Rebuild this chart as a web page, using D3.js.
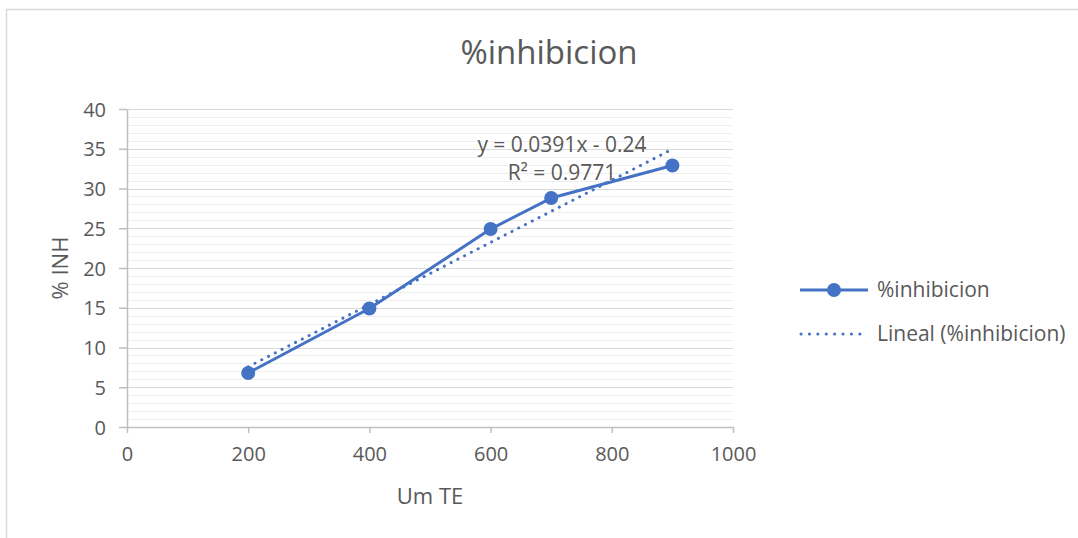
<!DOCTYPE html>
<html>
<head>
<meta charset="utf-8">
<script src="https://cdn.jsdelivr.net/npm/d3@7"></script>
<style>
  html, body { margin: 0; padding: 0; background: #fff; }
  svg { display: block; font-family: "Open Sans", "Noto Sans", sans-serif; }
</style>
</head>
<body>
<svg id="chart" width="1078" height="538"></svg>
<script>
// Measured concentrations (µM TE) and % inhibition
const concentrations = [200, 400, 600, 700, 900];
const inhibition = [6.8, 14.9, 24.9, 28.8, 32.9];

// Linear trendline reported on the chart
const trendSlope = 0.0391;
const trendIntercept = -0.24;
const trendR2 = 0.9771;

// Axis ticks
const xTicks = [0, 200, 400, 600, 800, 1000];
const yTicks = [0, 5, 10, 15, 20, 25, 30, 35, 40];
const yMinorTicks = d3.range(0, 41, 1);

const chartTitle = "%inhibicion";
const xTitle = "Um TE";
const yTitle = "% INH";
const seriesName = "%inhibicion";
const trendName = "Lineal (%inhibicion)";

const blue = "#4472C4";
const textGray = "#595959";

const svg = d3.select("#chart");

// Chart frame
svg.append("path")
  .attr("d", "M6.5,538 V9.5 H1078")
  .attr("fill", "none")
  .attr("stroke", "#d9d9d9")
  .attr("stroke-width", 1.5);

const x = d3.scaleLinear().domain([0, 1000]).range([127, 733]);
const y = d3.scaleLinear().domain([0, 40]).range([427, 109]);

// Minor gridlines
svg.append("g")
  .selectAll("line")
  .data(yMinorTicks.filter(v => v % 5 !== 0))
  .join("line")
  .attr("x1", x(0)).attr("x2", x(1000))
  .attr("y1", d => Math.round(y(d)) + 0.5).attr("y2", d => Math.round(y(d)) + 0.5)
  .attr("stroke", "#efefef")
  .attr("stroke-width", 1);

// Major gridlines
svg.append("g")
  .selectAll("line")
  .data(yTicks.filter(v => v !== 0))
  .join("line")
  .attr("x1", x(0)).attr("x2", x(1000))
  .attr("y1", d => Math.round(y(d)) + 0.5).attr("y2", d => Math.round(y(d)) + 0.5)
  .attr("stroke", "#d9d9d9")
  .attr("stroke-width", 1.2);

// Axes
const xAxis = svg.append("g")
  .attr("transform", `translate(0,${y(0)})`)
  .call(d3.axisBottom(x).tickValues(xTicks).tickFormat(d3.format("d"))
    .tickSize(6).tickSizeOuter(0).tickPadding(14));
const yAxis = svg.append("g")
  .attr("transform", `translate(${x(0)},0)`)
  .call(d3.axisLeft(y).tickValues(yTicks).tickFormat(d3.format("d"))
    .tickSize(8).tickSizeOuter(0).tickPadding(13));

[xAxis, yAxis].forEach(g => {
  g.selectAll("path.domain").attr("stroke", "#bfbfbf").attr("stroke-width", 1.5);
  g.selectAll(".tick line").attr("stroke", "#bfbfbf").attr("stroke-width", 1.5);
  g.selectAll(".tick text")
    .attr("fill", textGray)
    .style("font-size", "20px")
    .style("font-family", "'Open Sans', sans-serif");
});
xAxis.selectAll(".tick text").attr("dy", "0.68em");
yAxis.selectAll(".tick text").attr("dy", "0.35em");

// Trendline
const trendX = d3.extent(concentrations);
const trendLine = d3.line().x(d => x(d)).y(d => y(trendSlope * d + trendIntercept));
svg.append("path")
  .datum(trendX)
  .attr("d", trendLine)
  .attr("fill", "none")
  .attr("stroke", blue)
  .attr("stroke-width", 3)
  .attr("stroke-linecap", "round")
  .attr("stroke-dasharray", "0.1 7.5");

// Data series line
const pts = concentrations.map((c, i) => [c, inhibition[i]]);
svg.append("path")
  .datum(pts)
  .attr("d", d3.line().x(d => x(d[0])).y(d => y(d[1])))
  .attr("fill", "none")
  .attr("stroke", blue)
  .attr("stroke-width", 3)
  .attr("stroke-linejoin", "round");

svg.append("g")
  .selectAll("circle")
  .data(pts)
  .join("circle")
  .attr("cx", d => x(d[0]))
  .attr("cy", d => y(d[1]))
  .attr("r", 7)
  .attr("fill", blue);

// Trendline equation label
const eq = svg.append("text")
  .attr("text-anchor", "middle")
  .attr("fill", textGray)
  .style("font-size", "21px");
eq.append("tspan").attr("x", 562).attr("y", 152)
  .text(`y = ${trendSlope}x - ${Math.abs(trendIntercept)}`);
eq.append("tspan").attr("x", 562).attr("y", 180)
  .text(`R² = ${trendR2}`);

// Title
svg.append("text")
  .attr("x", 549).attr("y", 64)
  .attr("text-anchor", "middle")
  .attr("fill", textGray)
  .style("font-size", "33px")
  .text(chartTitle);

// Axis titles
svg.append("text")
  .attr("x", 430).attr("y", 504)
  .attr("text-anchor", "middle")
  .attr("fill", textGray)
  .style("font-size", "22px")
  .text(xTitle);

svg.append("text")
  .attr("transform", `translate(68,${(y(0) + y(40)) / 2}) rotate(-90)`)
  .attr("text-anchor", "middle")
  .attr("fill", textGray)
  .style("font-size", "22px")
  .text(yTitle);

// Legend
const legend = svg.append("g");
legend.append("line")
  .attr("x1", 800).attr("x2", 868).attr("y1", 290).attr("y2", 290)
  .attr("stroke", blue).attr("stroke-width", 3);
legend.append("circle")
  .attr("cx", 834).attr("cy", 290).attr("r", 7).attr("fill", blue);
legend.append("text")
  .attr("x", 877).attr("y", 290).attr("dy", "0.35em")
  .attr("fill", textGray).style("font-size", "21px")
  .text(seriesName);
legend.append("line")
  .attr("x1", 801).attr("x2", 868).attr("y1", 334).attr("y2", 334)
  .attr("stroke", blue).attr("stroke-width", 3)
  .attr("stroke-linecap", "round")
  .attr("stroke-dasharray", "0.1 8.3");
legend.append("text")
  .attr("x", 877).attr("y", 334).attr("dy", "0.35em")
  .attr("fill", textGray).style("font-size", "21px")
  .text(trendName);
</script>
</body>
</html>
